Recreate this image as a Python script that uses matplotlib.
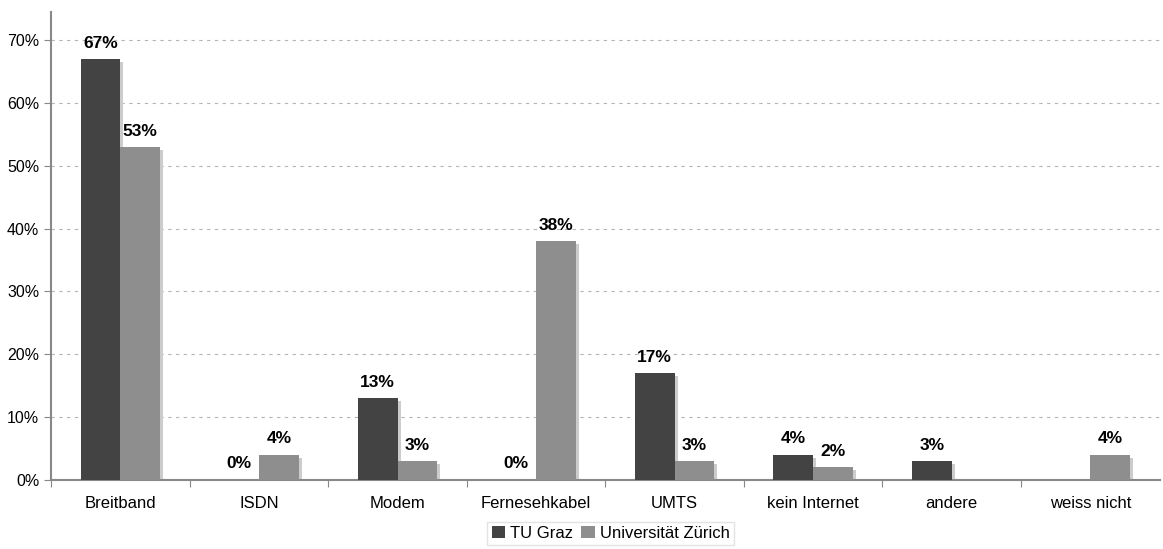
import numpy as np
import matplotlib.pyplot as plt

# Daten
kategorien = ["Breitband", "ISDN", "Modem", "Fernesehkabel", "UMTS",
              "kein Internet", "andere", "weiss nicht"]
tu_graz = [67, 0, 13, 0, 17, 4, 3, np.nan]
uni_zuerich = [53, 4, 3, 38, 3, 2, np.nan, 4]

plt.rcParams["font.family"] = ["Liberation Sans", "DejaVu Sans"]

fig = plt.figure(figsize=(11.63, 5.49), dpi=100)
ax = fig.add_axes([0.044, 0.126, 0.953, 0.852])

x = np.arange(len(kategorien))
w = 0.287
dx = 0.022  # Schattenversatz

serien = [(tu_graz, "#434343", "TU Graz", -w / 2),
          (uni_zuerich, "#8e8e8e", "Universität Zürich", w / 2)]

# Schatten zuerst
for werte, farbe, name, off in serien:
    v = np.array(werte, dtype=float)
    hs = np.where(v > 0, v - 0.45, np.nan)
    ax.bar(x + off + dx, hs, w, color="#cccccc", zorder=2)

for werte, farbe, name, off in serien:
    v = np.array(werte, dtype=float)
    ax.bar(x + off, v, w, color=farbe, label=name, zorder=3)
    for xi, vi in zip(x + off, v):
        if np.isnan(vi):
            continue
        ax.annotate(f"{vi:.0f}%", (xi, vi), xytext=(0, 6), textcoords="offset points",
                    ha="center", va="bottom", fontsize=12.5, fontweight="bold", zorder=4)

ax.set_xlim(-0.5, len(kategorien) - 0.5)
ax.set_ylim(0, 74.5)
ax.set_yticks(np.arange(0, 71, 10))
ax.set_yticklabels([f"{t}%" for t in range(0, 71, 10)], fontsize=11.5)
ax.yaxis.grid(True, linestyle=(0, (3, 4)), color="#b5b5b5", linewidth=0.8, zorder=0)

ax.set_xticks(np.arange(-0.5, len(kategorien) - 0.5, 1))
ax.set_xticklabels([])
ax.set_xticks(x, minor=True)
ax.set_xticklabels(kategorien, minor=True, fontsize=12)
ax.tick_params(axis="x", which="major", length=5, color="#888888")
ax.tick_params(axis="x", which="minor", length=0, pad=12)
ax.tick_params(axis="y", length=5, color="#888888")

for s in ["top", "right"]:
    ax.spines[s].set_visible(False)
for s in ["left", "bottom"]:
    ax.spines[s].set_color("#888888")
    ax.spines[s].set_linewidth(1.5)

leg = fig.legend(loc="lower center", bbox_to_anchor=(0.525, -0.008), ncol=2, fontsize=12,
                 frameon=True, fancybox=False, handlelength=0.8, handleheight=0.8,
                 handletextpad=0.3, columnspacing=0.5, borderpad=0.25)
leg.get_frame().set_edgecolor("#dddddd")

fig.savefig("out.png", dpi=100)
